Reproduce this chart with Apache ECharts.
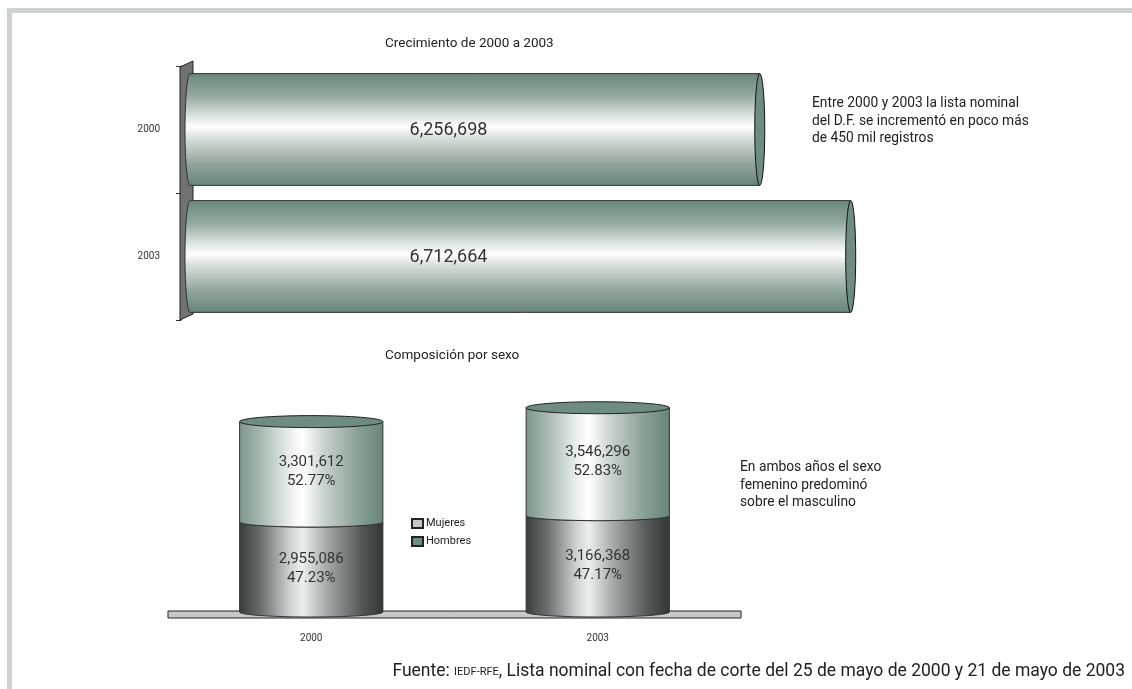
<!DOCTYPE html>
<html>
<head>
<meta charset="utf-8">
<script src="https://cdn.jsdelivr.net/npm/echarts@6.0.0/dist/echarts.min.js"></script>
<style>
html,body{margin:0;padding:0;background:#fff;}
#c{width:1132px;height:689px;}
</style>
</head>
<body>
<div id="c"></div>
<script>
// ---- data ----
const years = ['2000', '2003'];
const totals = [6256698, 6712664];
const mujeres = [3301612, 3546296];
const hombres = [2955086, 3166368];
const mujeresPct = ['52.77%', '52.83%'];
const hombresPct = ['47.23%', '47.17%'];
const growthMin = 3400000;
const growthMax = 7000000;
const compMax = 7000000;

const FONT = 'Roboto, "Noto Sans", sans-serif';
const fmt = v => v.toLocaleString('en-US');

const chart = echarts.init(document.getElementById('c'), null, {renderer: 'canvas'});

const gradH = () => new echarts.graphic.LinearGradient(0, 0, 0, 1, [
  {offset: 0, color: '#6a877a'},
  {offset: 0.2, color: '#93a99e'},
  {offset: 0.4, color: '#e3e9e5'},
  {offset: 0.48, color: '#ffffff'},
  {offset: 0.58, color: '#d6ded9'},
  {offset: 0.8, color: '#92a79c'},
  {offset: 1, color: '#66837a'}
]);
const gradTop = () => new echarts.graphic.LinearGradient(0, 0, 1, 0, [
  {offset: 0, color: '#7b968a'},
  {offset: 0.15, color: '#a7b9b0'},
  {offset: 0.36, color: '#eef1ef'},
  {offset: 0.44, color: '#ffffff'},
  {offset: 0.6, color: '#c5d0ca'},
  {offset: 0.82, color: '#8aa195'},
  {offset: 1, color: '#678578'}
]);
const gradBot = () => new echarts.graphic.LinearGradient(0, 0, 1, 0, [
  {offset: 0, color: '#383b3c'},
  {offset: 0.15, color: '#6a6e6e'},
  {offset: 0.36, color: '#d2d5d5'},
  {offset: 0.44, color: '#eceeee'},
  {offset: 0.6, color: '#a7abab'},
  {offset: 0.85, color: '#535757'},
  {offset: 1, color: '#323536'}
]);

function renderWall(params, api) {
  const cs = params.coordSys;
  const x = cs.x, t = cs.y, b = cs.y + cs.height;
  return {
    type: 'polygon',
    shape: {points: [[x - 10, t + 1], [x + 3, t - 5], [x + 3, b - 6], [x - 10, b]]},
    style: {fill: '#707274', stroke: '#222', lineWidth: 1}
  };
}

function renderHBar(params, api) {
  const cat = api.value(1), val = api.value(0);
  const s = api.coord([growthMin, cat]);
  const e = api.coord([val, cat]);
  const h = api.size([0, 1])[1] * 0.88;
  const cy = e[1], top = cy - h / 2, bot = cy + h / 2;
  const rx = 5, x0 = s[0], x1 = e[0];
  const pts = [];
  const N = 30;
  for (let i = 0; i <= N; i++) {
    const th = -Math.PI / 2 + Math.PI * i / N;
    pts.push([x0 - rx * Math.cos(th), cy + (h / 2) * Math.sin(th)]);
  }
  pts.push([x1, bot]);
  pts.push([x1, top]);
  const cs = params.coordSys;
  return {
    type: 'group',
    children: [
      {type: 'polygon', shape: {points: pts}, style: {fill: gradH(), stroke: '#333', lineWidth: 1}},
      {type: 'ellipse', shape: {cx: x1, cy: cy, rx: rx, ry: h / 2}, style: {fill: '#6e8c7f', stroke: '#111', lineWidth: 1}},
      {type: 'text', style: {text: fmt(val), x: cs.x + cs.width * 0.36, y: cy + 1, align: 'center', verticalAlign: 'middle', fill: '#333', font: '18px ' + FONT}}
    ]
  };
}

function renderFloor(params, api) {
  const cs = params.coordSys;
  const yb = api.coord([0, 0])[1];
  return {
    type: 'rect',
    shape: {x: cs.x, y: yb - 1, width: cs.width, height: 7},
    style: {fill: '#c4c9c9', stroke: '#222', lineWidth: 1}
  };
}

function makeSeg(isTop) {
  return function (params, api) {
    const cat = api.value(0), lo = api.value(1), hi = api.value(2);
    const idx = params.dataIndex;
    const pLo = api.coord([cat, lo]);
    const pHi = api.coord([cat, hi]);
    const w = api.size([1, 0])[0] * 0.5;
    const cx = pLo[0], L = cx - w / 2, R = cx + w / 2;
    const yb = pLo[1], yt = pHi[1];
    const ry = 5, N = 40;
    const pts = [[L, yt], [L, yb]];
    for (let i = 1; i < N; i++) {
      const th = Math.PI - Math.PI * i / N;
      pts.push([cx + (w / 2) * Math.cos(th), yb + ry * Math.sin(th)]);
    }
    pts.push([R, yb]);
    pts.push([R, yt]);
    if (!isTop) {
      for (let i = 1; i < N; i++) {
        const th = Math.PI * i / N;
        pts.push([cx + (w / 2) * Math.cos(th), yt + ry * Math.sin(th)]);
      }
    }
    const children = [
      {type: 'polygon', shape: {points: pts}, style: {fill: isTop ? gradTop() : gradBot(), stroke: '#333', lineWidth: 1}}
    ];
    if (isTop) {
      children.push({type: 'ellipse', shape: {cx: cx, cy: yt, rx: w / 2, ry: 6}, style: {fill: '#6e8c7f', stroke: '#222', lineWidth: 1}});
    }
    const val = isTop ? mujeres[idx] : hombres[idx];
    const pct = isTop ? mujeresPct[idx] : hombresPct[idx];
    children.push({
      type: 'text',
      style: {text: fmt(val) + '\n' + pct, x: cx, y: (yb + yt) / 2 + (isTop ? 0 : 2), align: 'center', verticalAlign: 'middle',
        fill: '#333', font: '15px ' + FONT, lineHeight: 19}
    });
    return {type: 'group', children: children};
  };
}

const option = {
  backgroundColor: '#ffffff',
  animation: false,
  textStyle: {fontFamily: FONT},
  graphic: [
    {type: 'rect', z: -10, shape: {x: 7, y: 8, width: 1125, height: 5}, style: {fill: '#cdd4d0'}},
    {type: 'rect', z: -10, shape: {x: 7, y: 8, width: 5, height: 681}, style: {fill: '#cdd4d0'}}
  ],
  title: [
    {text: 'Crecimiento de 2000 a 2003', left: 385, top: 37, padding: 0, textStyle: {fontSize: 13.5, fontWeight: 'normal', color: '#222', fontFamily: FONT}},
    {text: 'Composición por sexo', left: 385, top: 349, padding: 0, textStyle: {fontSize: 13.5, fontWeight: 'normal', color: '#222', fontFamily: FONT}},
    {text: 'Entre 2000 y 2003 la lista nominal\ndel D.F. se incrementó en poco más\nde 450 mil registros', left: 812, top: 95, padding: 0,
      textStyle: {fontSize: 13.8, fontWeight: 'normal', color: '#222', lineHeight: 17.5, fontFamily: FONT}},
    {text: 'En ambos años el sexo\nfemenino predominó\nsobre el masculino', left: 740, top: 459, padding: 0,
      textStyle: {fontSize: 13.8, fontWeight: 'normal', color: '#222', lineHeight: 17.5, fontFamily: FONT}},
    {text: 'Fuente: {s|IEDF-RFE}, Lista nominal con fecha de corte del 25 de mayo de 2000 y 21 de mayo de 2003', right: 7, top: 663, padding: 0,
      textStyle: {fontSize: 17.5, fontWeight: 'normal', color: '#222', fontFamily: FONT,
        rich: {s: {fontSize: 11, color: '#222', fontFamily: FONT}}}}
  ],
  legend: {
    data: ['Mujeres', 'Hombres'],
    orient: 'vertical',
    left: 411, top: 518,
    itemWidth: 11, itemHeight: 9, itemGap: 7,
    padding: 0,
    icon: 'rect',
    selectedMode: false,
    textStyle: {fontSize: 11, color: '#222', fontFamily: FONT, padding: [0, 0, 0, -2]}
  },
  grid: [
    {left: 190, top: 66, width: 718, height: 254},
    {left: 168, top: 399, width: 573, height: 213}
  ],
  xAxis: [
    {type: 'value', gridIndex: 0, min: growthMin, max: growthMax, show: false},
    {type: 'category', gridIndex: 1, data: years,
      axisLine: {show: false}, axisTick: {show: false},
      axisLabel: {fontSize: 10, color: '#333', margin: 21, fontFamily: FONT}}
  ],
  yAxis: [
    {type: 'category', gridIndex: 0, data: years, inverse: true, offset: 9,
      axisLine: {show: true, lineStyle: {color: '#333'}},
      axisTick: {show: true, length: 5, lineStyle: {color: '#333'}},
      axisLabel: {fontSize: 10, color: '#333', margin: 21, fontFamily: FONT}},
    {type: 'value', gridIndex: 1, min: 0, max: compMax, show: false}
  ],
  series: [
    {type: 'custom', name: 'wall', xAxisIndex: 0, yAxisIndex: 0, renderItem: renderWall, data: [[growthMin, 0]], z: 1, silent: true},
    {type: 'custom', name: 'Crecimiento', xAxisIndex: 0, yAxisIndex: 0, renderItem: renderHBar,
      encode: {x: 0, y: 1}, data: totals.map((v, i) => [v, i]), z: 2},
    {type: 'custom', name: 'floor', xAxisIndex: 1, yAxisIndex: 1, renderItem: renderFloor, data: [[0, 0]], z: 1, silent: true},
    {type: 'custom', name: 'Hombres', xAxisIndex: 1, yAxisIndex: 1, renderItem: makeSeg(false),
      itemStyle: {color: '#6e8c7f', borderColor: '#222', borderWidth: 1},
      encode: {x: 0, y: [1, 2]}, data: hombres.map((v, i) => [i, 0, v]), z: 2},
    {type: 'custom', name: 'Mujeres', xAxisIndex: 1, yAxisIndex: 1, renderItem: makeSeg(true),
      itemStyle: {color: '#c3c7c7', borderColor: '#222', borderWidth: 1},
      encode: {x: 0, y: [1, 2]}, data: mujeres.map((v, i) => [i, hombres[i], hombres[i] + v]), z: 3}
  ]
};
chart.setOption(option);
</script>
</body>
</html>
